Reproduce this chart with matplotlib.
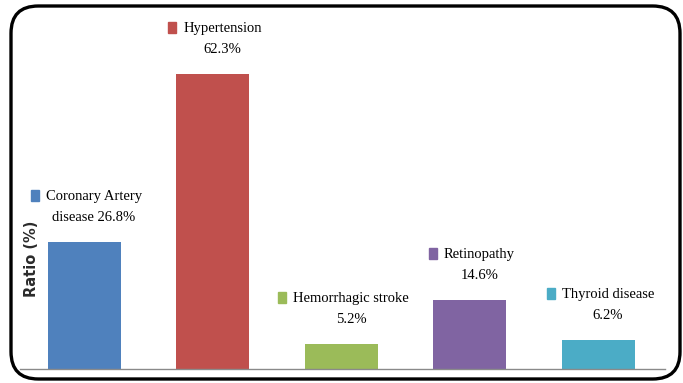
import matplotlib
matplotlib.use("Agg")
import matplotlib.pyplot as plt
from matplotlib.patches import FancyBboxPatch, Rectangle

names = ["Coronary Artery", "Hypertension", "Hemorrhagic stroke", "Retinopathy", "Thyroid disease"]
values = [26.8, 62.3, 5.2, 14.6, 6.2]
second_lines = ["disease 26.8%", "62.3%", "5.2%", "14.6%", "6.2%"]
colors = ["#4F81BD", "#C0504D", "#9BBB59", "#8064A2", "#4BACC6"]

W, H = 683, 383
fig = plt.figure(figsize=(W / 100, H / 100), dpi=100)

# rounded outer frame
frame = FancyBboxPatch((11 / W, 4 / H), 669 / W, 373 / H,
                       boxstyle="round,pad=0,rounding_size=0.04",
                       transform=fig.transFigure, fill=False,
                       edgecolor="black", linewidth=2.4, mutation_aspect=W / H)
fig.patches.append(frame)

ax = fig.add_axes([20 / W, (H - 369) / H, 645 / W, 359 / H])
x = range(len(values))
ax.bar(x, values, width=0.57, color=colors)
ax.set_xlim(-0.5, 4.52)
ax.set_ylim(0, 75.8)
for s in ["top", "left", "right"]:
    ax.spines[s].set_visible(False)
ax.spines["bottom"].set_color("#8a8a8a")
ax.spines["bottom"].set_linewidth(1)
ax.set_xticks([])
ax.set_yticks([])
ax.patch.set_alpha(0)

fig.text(31 / W, 1 - 259 / H, "Ratio (%)", rotation=90, ha="center", va="center",
         fontsize=10.5, fontweight="bold", color="#2b2b2b", family="DejaVu Sans")

serif = "Liberation Serif"
fs = 10.5
labels1 = []
for i, v in enumerate(values):
    ax.annotate(second_lines[i], xy=(i, v), xytext=(7, 13), textcoords="offset points",
                ha="center", va="bottom", fontsize=fs, family=serif)
    t1 = ax.annotate(names[i], xy=(i, v), xytext=(7, 28), textcoords="offset points",
                     ha="center", va="bottom", fontsize=fs, family=serif)
    labels1.append(t1)

# legend key squares next to the first label line
fig.canvas.draw()
r = fig.canvas.get_renderer()
for i, t1 in enumerate(labels1):
    bb = t1.get_window_extent(r)
    sw, sh = 8, 11
    x0 = bb.x0 - sw - 7
    y0 = bb.y0 + bb.height / 2 - sh / 2 + 1
    fig.patches.append(Rectangle((x0 / W, y0 / H), sw / W, sh / H,
                                 transform=fig.transFigure, color=colors[i]))

fig.savefig("out.png", dpi=100)
